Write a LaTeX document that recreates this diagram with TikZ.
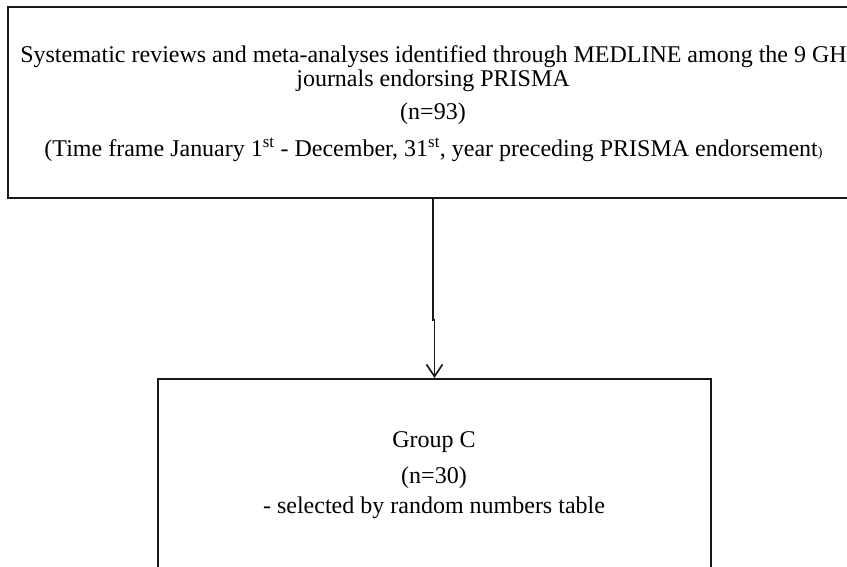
\documentclass[tikz,border=0pt]{standalone}
\usepackage{fontspec}
\setmainfont{Liberation Serif}
\usetikzlibrary{arrows.meta}
\begin{document}
\begin{tikzpicture}[x=1pt,y=-1pt,
  box/.style={draw=black!90, line width=2.1pt, rectangle, inner sep=0pt, fill=none},
  txt/.style={inner sep=0pt, anchor=base, font=\fontsize{24}{26}\selectfont},
  conn/.style={draw=black!90, line width=1.7pt, -{Straight Barb[length=12pt,width=16pt,line width=1.7pt]}}]
\useasboundingbox (0,0) rectangle (847,567);
\clip (0,0) rectangle (847,567);
\fill[white] (0,0) rectangle (847,567);
% boxes
\node[box, minimum width=850pt, minimum height=191pt] (top) at (433,102.5) {};
\node[box, minimum width=553pt, minimum height=240pt] (bot) at (434.5,499) {};
% top texts
\node[txt] (t1) at (433.5,63) {Systematic reviews and meta-analyses identified through MEDLINE among the 9 GH};
\node[txt] (t2) at (433,87) {journals endorsing PRISMA};
\node[txt] (t3) at (433,120) {(n=93)};
\node[txt] (t4) at (433.5,157) {(Time frame January 1\textsuperscript{st} - December, 31\textsuperscript{st}, year preceding PRISMA endorsement{\fontsize{14}{14}\selectfont )}};
% bottom texts
\node[txt] (b1) at (434,447) {Group C};
\node[txt] (b2) at (434,483) {(n=30)};
\node[txt] (b3) at (434,513) {- selected by random numbers table};
% connector
\coordinate (k1) at (433,320);
\coordinate (k2) at (434.5,320);
\draw[conn] (top.south) -- (k1) -- (k2) -- (bot.north);
\end{tikzpicture}
\end{document}
